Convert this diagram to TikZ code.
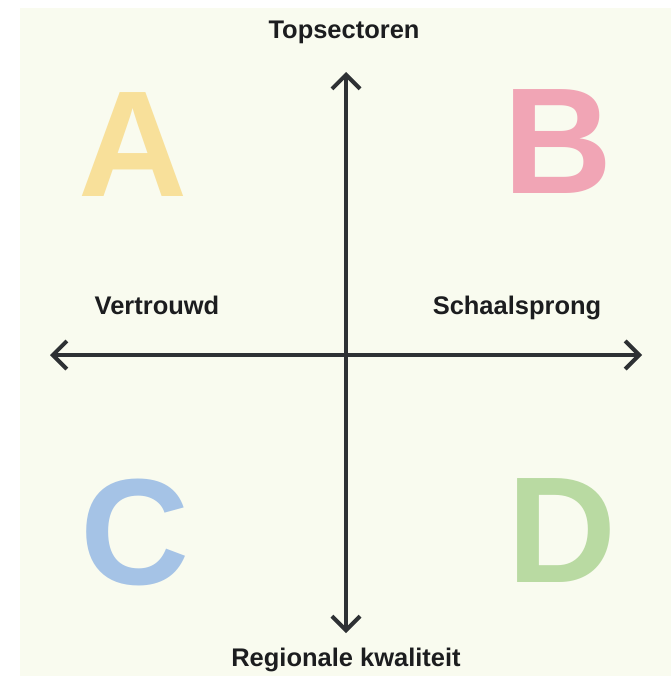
\documentclass[tikz,border=0pt]{standalone}
\usepackage{fontspec}
\setmainfont{Liberation Sans}
\usetikzlibrary{arrows.meta}
\usetikzlibrary{positioning}
\definecolor{PaperCream}{HTML}{F9FBEF}
\definecolor{AxisGrey}{HTML}{2E3134}
\definecolor{SoftYellow}{HTML}{F8E09A}
\definecolor{SoftPink}{HTML}{F1A5B5}
\definecolor{SoftBlue}{HTML}{A5C3E6}
\definecolor{SoftGreen}{HTML}{B9DAA2}
\tikzset{
  quadletter/.style={inner sep=0pt, font=\fontsize{86}{86}\selectfont\bfseries},
  axislabel/.style={inner sep=0pt, anchor=base, text=AxisGrey!60!black,
    font=\fontsize{14.5}{16}\selectfont\bfseries},
  axisline/.style={AxisGrey, line width=2.3pt,
    {Straight Barb[length=8pt,width=16pt]}-{Straight Barb[length=8pt,width=16pt]}}
}

\begin{document}
\begin{tikzpicture}[x=0.02cm,y=-0.02cm]
  \useasboundingbox (0,0) rectangle (671,676);
  \fill[PaperCream] (20,8) rectangle (671,676);

  \coordinate (top) at (346,72);
  \coordinate (bottom) at (346,633);
  \coordinate (left) at (50,355);
  \coordinate (right) at (642,355);

  \draw[axisline] (left) -- (right);
  \draw[axisline] (bottom) -- (top);

  \node[quadletter, text=SoftYellow] (qA) at (133,145) {A};
  \node[quadletter, text=SoftPink]   (qB) at (558,142) {B};
  \node[quadletter, text=SoftBlue]   (qC) at (135,532) {C};
  \node[quadletter, text=SoftGreen]  (qD) at (562,531) {D};

  \node[axislabel] (lTop)    at (344,38)  {Topsectoren};
  \node[axislabel] (lBottom) at (346,666) {Regionale kwaliteit};
  \node[axislabel] (lLeft)   at (157,314) {Vertrouwd};
  \node[axislabel] (lRight)  at (517,314) {Schaalsprong};

\end{tikzpicture}
\end{document}
